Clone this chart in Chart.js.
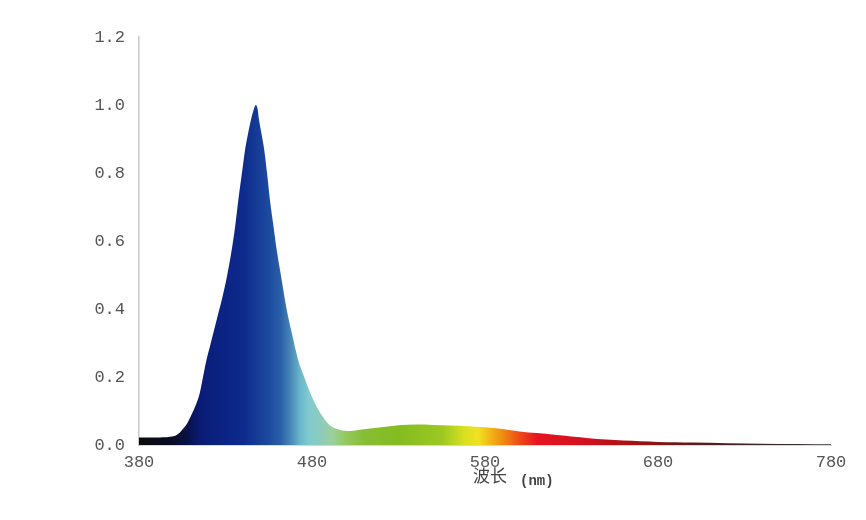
<!DOCTYPE html>
<html>
<head>
<meta charset="utf-8">
<title>Spectrum</title>
<script src="https://cdn.jsdelivr.net/npm/chart.js@4"></script>
<style>
  html, body { margin: 0; padding: 0; background: #fff; }
  #wrap { width: 866px; height: 520px; }
</style>
</head>
<body>
<div id="wrap"><canvas id="spectrum" width="866" height="520"></canvas></div>
<script>
// wavelength (nm) and relative intensity
const wavelengths = [380, 390, 398, 402, 405, 408, 410, 413, 415, 417, 419, 421, 423, 425.5, 428, 431, 433.6, 435.5, 437.4, 439.5, 441.3, 443, 444.7, 446.5, 447.5, 448.5, 449.4, 451, 452.4, 454, 455.7, 457.7, 459.6, 462, 464.4, 466.3, 468.3, 472, 475.5, 479, 483, 487.5, 491, 495, 500, 505, 510, 520, 530, 540, 550, 560, 570, 580, 590, 600, 610, 620, 630, 640, 650, 660, 670, 680, 690, 700, 720, 740, 760, 780];
const intensity = [0.022, 0.022, 0.024, 0.030, 0.045, 0.065, 0.085, 0.12, 0.15, 0.20, 0.25, 0.29, 0.33, 0.38, 0.43, 0.50, 0.574, 0.64, 0.72, 0.80, 0.868, 0.915, 0.956, 0.99, 1.00, 0.99, 0.956, 0.91, 0.868, 0.80, 0.72, 0.645, 0.574, 0.50, 0.426, 0.375, 0.33, 0.25, 0.20, 0.153, 0.11, 0.074, 0.055, 0.046, 0.041, 0.043, 0.046, 0.052, 0.058, 0.060, 0.059, 0.057, 0.055, 0.052, 0.047, 0.040, 0.035, 0.030, 0.025, 0.020, 0.016, 0.013, 0.011, 0.009, 0.008, 0.007, 0.005, 0.004, 0.003, 0.002];

const xTicks = [380, 480, 580, 680, 780];
const yTicks = [0, 0.2, 0.4, 0.6, 0.8, 1.0, 1.2];

// spectral colour ramp under the curve
const stopWavelengths = [380, 398, 408, 416, 440, 455, 462, 468, 473, 478, 485, 492, 500, 510, 530, 555, 568, 576, 584, 592, 600, 610, 640, 665, 690, 720, 780];
const stopColors = ['#0c0c0c', '#0a0a22', '#061246', '#0a1c78', '#0c2a8c', '#1c4a9e', '#2a60a8', '#4a8ab8', '#68b6c8', '#80cad0', '#8cccbc', '#9ad09a', '#94c85c', '#86be34', '#84bc20', '#9cc820', '#d8e020', '#f0e222', '#f2b014', '#f08012', '#ee4a18', '#e61420', '#d01020', '#a81212', '#6c1818', '#442020', '#303030'];

const points = wavelengths.map((w, i) => ({ x: w, y: intensity[i] }));

function spectrumFill(context) {
  const chart = context.chart;
  const { ctx, chartArea, scales } = chart;
  if (!chartArea) return '#0c2a8c';
  const x0 = scales.x.getPixelForValue(380);
  const x1 = scales.x.getPixelForValue(780);
  const g = ctx.createLinearGradient(x0, 0, x1, 0);
  stopWavelengths.forEach((w, i) => {
    g.addColorStop((w - 380) / 400, stopColors[i]);
  });
  return g;
}

// axis title with mixed fonts, drawn under the x axis
const axisTitle = {
  id: 'axisTitle',
  afterDraw(chart) {
    const ctx = chart.ctx;
    ctx.save();
    ctx.fillStyle = '#444';
    ctx.textBaseline = 'alphabetic';
    ctx.font = '17px "Noto Sans CJK SC"';
    ctx.fillText('波长', 473, 482);
    ctx.font = 'bold 14px "Liberation Mono"';
    ctx.fillText('(nm)', 520, 485);
    ctx.restore();
  }
};

new Chart(document.getElementById('spectrum'), {
  type: 'line',
  data: {
    datasets: [{
      data: points,
      fill: 'origin',
      backgroundColor: spectrumFill,
      borderColor: 'rgba(0,0,0,0)',
      borderWidth: 0,
      pointRadius: 0,
      cubicInterpolationMode: 'monotone'
    }]
  },
  options: {
    responsive: false,
    animation: false,
    devicePixelRatio: 1,
    layout: { padding: { top: 37, right: 35, left: 0, bottom: 0 } },
    plugins: { legend: { display: false }, tooltip: { enabled: false } },
    scales: {
      x: {
        type: 'linear',
        min: 380,
        max: 780,
        afterBuildTicks: (scale) => { scale.ticks = xTicks.map(v => ({ value: v })); },
        afterFit: (scale) => { scale.height = 75; },
        grid: { display: false },
        border: { display: true, color: '#d8d8d8', width: 1 },
        ticks: {
          padding: -1,
          color: '#555',
          font: { family: '"Liberation Mono"', size: 17 },
          callback: (v) => String(v)
        }
      },
      y: {
        min: 0,
        max: 1.2,
        afterBuildTicks: (scale) => { scale.ticks = yTicks.map(v => ({ value: v })); },
        afterFit: (scale) => { scale.width = 139; },
        grid: { display: false },
        border: { display: true, color: '#c8c8c8', width: 1.5 },
        ticks: {
          padding: 6,
          color: '#555',
          font: { family: '"Liberation Mono"', size: 17 },
          callback: (v) => Number(v).toFixed(1)
        }
      }
    }
  },
  plugins: [axisTitle]
});
</script>
</body>
</html>
